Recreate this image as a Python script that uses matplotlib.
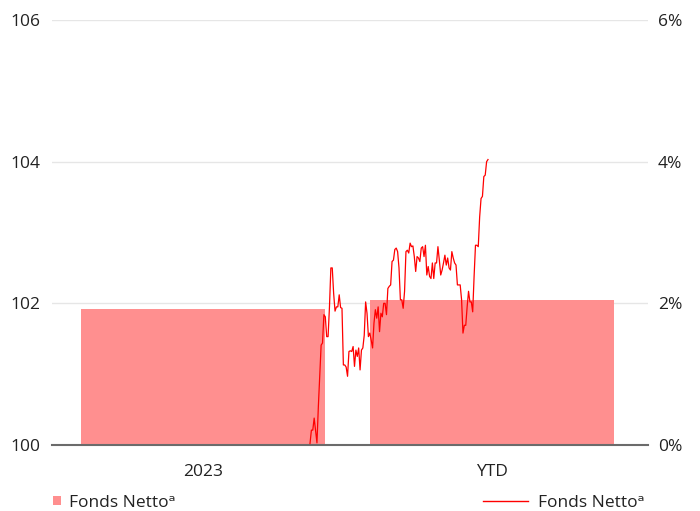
import matplotlib
matplotlib.use("Agg")
import matplotlib.pyplot as plt
from matplotlib.patches import Patch
from matplotlib.lines import Line2D
from matplotlib.ticker import FuncFormatter

plt.rcParams['font.family'] = ['Open Sans', 'DejaVu Sans']

# Data
categories = ["2023", "YTD"]
bar_values = [1.92, 2.05]  # percent, right axis
line_values = [
    100.02, 100.21, 100.21, 100.38, 100.21, 100.03, 100.54, 100.96, 101.41, 101.44,
    101.84, 101.81, 101.53, 101.53, 101.95, 102.50, 102.50, 102.14, 101.89, 101.95,
    101.95, 102.12, 101.94, 101.93, 101.13, 101.13, 101.10, 100.97, 101.32, 101.33,
    101.32, 101.39, 101.11, 101.34, 101.25, 101.37, 101.06, 101.34, 101.37, 101.55,
    102.02, 101.86, 101.53, 101.58, 101.48, 101.37, 101.72, 101.91, 101.79, 101.95,
    101.60, 101.86, 101.81, 102.00, 102.00, 101.84, 102.21, 102.24, 102.26, 102.59,
    102.61, 102.76, 102.78, 102.73, 102.50, 102.05, 102.05, 101.93, 102.17, 102.73,
    102.75, 102.71, 102.85, 102.80, 102.81, 102.66, 102.45, 102.66, 102.64, 102.59,
    102.78, 102.80, 102.66, 102.82, 102.40, 102.52, 102.38, 102.35, 102.57, 102.35,
    102.57, 102.57, 102.80, 102.61, 102.40, 102.47, 102.57, 102.68, 102.54, 102.64,
    102.50, 102.47, 102.73, 102.64, 102.57, 102.54, 102.26, 102.26, 102.26, 102.05,
    101.58, 101.69, 101.69, 101.95, 102.17, 102.02, 102.02, 101.88, 102.38, 102.82,
    102.82, 102.80, 103.22, 103.48, 103.51, 103.79, 103.81, 104.00, 104.03,
]
left_ticks = [100, 102, 104, 106]
right_ticks = [0, 2, 4, 6]
legend_label = "Fonds Netto\u1d43"

bar_color = "#FF8F8F"
line_color = "#FF0000"
text_color = "#222222"

fig = plt.figure(figsize=(7.0, 5.11), dpi=100)
pos = [52/700, 1-445/511, 596/700, 425/511]

# Bars on percent axis (right)
ax = fig.add_axes(pos)
xpos = list(range(len(categories)))
ax.bar(xpos, bar_values, width=0.844, color=bar_color, zorder=2)
ax.set_xlim(-0.5224, -0.5224 + 596/289)
ax.set_ylim(0, 6)
ax.set_xticks(xpos)
ax.set_xticklabels(categories)
ax.set_yticks(right_ticks)
ax.yaxis.set_major_formatter(FuncFormatter(lambda v, p: f"{v:.0f}%"))
ax.yaxis.tick_right()
ax.tick_params(axis='both', length=0, labelsize=12.5, colors=text_color)
ax.tick_params(axis='x', pad=14)
ax.tick_params(axis='y', pad=7)
ax.grid(axis='y', color='#e6e6e6', linewidth=1, zorder=0)
ax.set_axisbelow(True)
for s in ['top', 'left', 'right']:
    ax.spines[s].set_visible(False)
ax.spines['bottom'].set_color('#6b6b6b')
ax.spines['bottom'].set_linewidth(1.5)
ax.spines['bottom'].set_zorder(5)

# Line on index axis (left)
axL = fig.add_axes(pos)
axL.patch.set_visible(False)
idx = list(range(len(line_values)))
axL.plot(idx, line_values, color=line_color, linewidth=0.9, zorder=3)
n = len(line_values) - 1
ppi = 178 / n
axL.set_xlim(-(310-52)/ppi, n + (648-488)/ppi)
axL.set_ylim(100, 106)
axL.set_yticks(left_ticks)
axL.set_xticks([])
axL.tick_params(axis='y', length=0, labelsize=12.5, colors=text_color, pad=8)
for s in axL.spines.values():
    s.set_visible(False)

# Legends
h1 = Patch(facecolor=bar_color, edgecolor='none')
leg1 = fig.legend(handles=[h1], labels=[legend_label], loc='center left',
                  bbox_to_anchor=(53/700, 1-503/511), frameon=False,
                  fontsize=12.5, handlelength=0.45, handleheight=0.45,
                  handletextpad=0.45, borderpad=0, borderaxespad=0)
h2 = Line2D([0], [0], color=line_color, linewidth=1.0)
leg2 = fig.legend(handles=[h2], labels=[legend_label], loc='center right',
                  bbox_to_anchor=(645/700, 1-503/511), frameon=False,
                  fontsize=12.5, handlelength=2.6, handletextpad=0.6,
                  borderpad=0, borderaxespad=0)
for leg in (leg1, leg2):
    for t in leg.get_texts():
        t.set_color(text_color)

fig.savefig("out.png", dpi=100)
